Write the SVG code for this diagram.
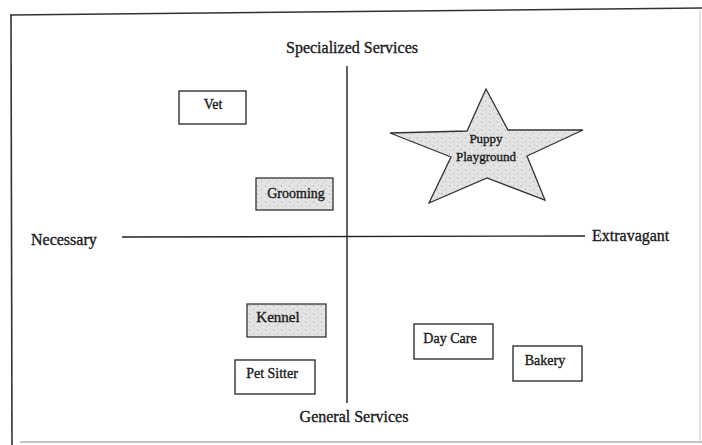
<svg xmlns="http://www.w3.org/2000/svg" width="702" height="445" viewBox="0 0 702 445">
<style>
text{font-family:"Liberation Serif","Times New Roman",serif;fill:#1a1a1a;stroke:#1a1a1a;stroke-width:0.35;font-size:14px}
.ax{font-size:16px}
.lbl{text-anchor:middle}
.box{fill:#fff;stroke:#222;stroke-width:1.3}
.gray{fill:url(#speck);stroke:#333;stroke-width:1.3}
.axis{stroke:#222;stroke-width:1.4;fill:none}
.frame{stroke:#333;stroke-width:1.6;fill:none}
</style>
<defs>
<pattern id="speck" width="8" height="8" patternUnits="userSpaceOnUse">
<rect width="8" height="8" fill="#e4e4e4"/>
<circle cx="1.5" cy="2" r="0.7" fill="#aaa"/>
<circle cx="5.5" cy="5" r="0.6" fill="#999"/>
<circle cx="3" cy="6.5" r="0.5" fill="#bbb"/>
<circle cx="6.5" cy="1" r="0.5" fill="#bbb"/>
</pattern>
</defs>
<rect width="702" height="445" fill="#fff"/>
<g id="frame">
<line class="frame" x1="10" y1="15" x2="702" y2="8"/>
<line class="frame" x1="11" y1="15" x2="12" y2="445"/>
<line x1="20" y1="442" x2="702" y2="442" stroke="#888" stroke-width="1"/>
<line x1="700" y1="10" x2="700" y2="442" stroke="#ccc" stroke-width="1"/>
</g>
<g id="connectors">
<line class="axis" x1="347" y1="66" x2="347" y2="403"/>
<line class="axis" x1="122" y1="237" x2="585" y2="236"/>
</g>
<g id="axis-labels">
<text class="lbl ax" x="352" y="53">Specialized Services</text>
<text class="lbl ax" x="354" y="422">General Services</text>
<text class="ax" x="31" y="245">Necessary</text>
<text class="ax" x="592" y="241">Extravagant</text>
</g>
<g id="vet"><rect class="box" x="179" y="91" width="67" height="33"/><text class="lbl" x="213" y="109">Vet</text></g>
<g id="grooming"><rect class="gray" x="256" y="178" width="77" height="32"/><text class="lbl" x="296" y="198">Grooming</text></g>
<g id="puppy-playground">
<polygon class="gray" points="486,89 508,130 583,130 527,156 545,200 487,178 429,203 451,157 390,133 467,131"/>
<text class="lbl" x="486" y="143" style="font-size:13px">Puppy</text>
<text class="lbl" x="486" y="161" style="font-size:13px">Playground</text>
</g>
<g id="kennel"><rect class="gray" x="247" y="304" width="79" height="33"/><text class="lbl" x="278" y="322" style="font-size:15px">Kennel</text></g>
<g id="pet-sitter"><rect class="box" x="235" y="360" width="80" height="34"/><text class="lbl" x="272" y="378">Pet Sitter</text></g>
<g id="day-care"><rect class="box" x="414" y="324" width="79" height="35"/><text class="lbl" x="450" y="343">Day Care</text></g>
<g id="bakery"><rect class="box" x="513" y="346" width="69" height="35"/><text class="lbl" x="545" y="365">Bakery</text></g>
</svg>
